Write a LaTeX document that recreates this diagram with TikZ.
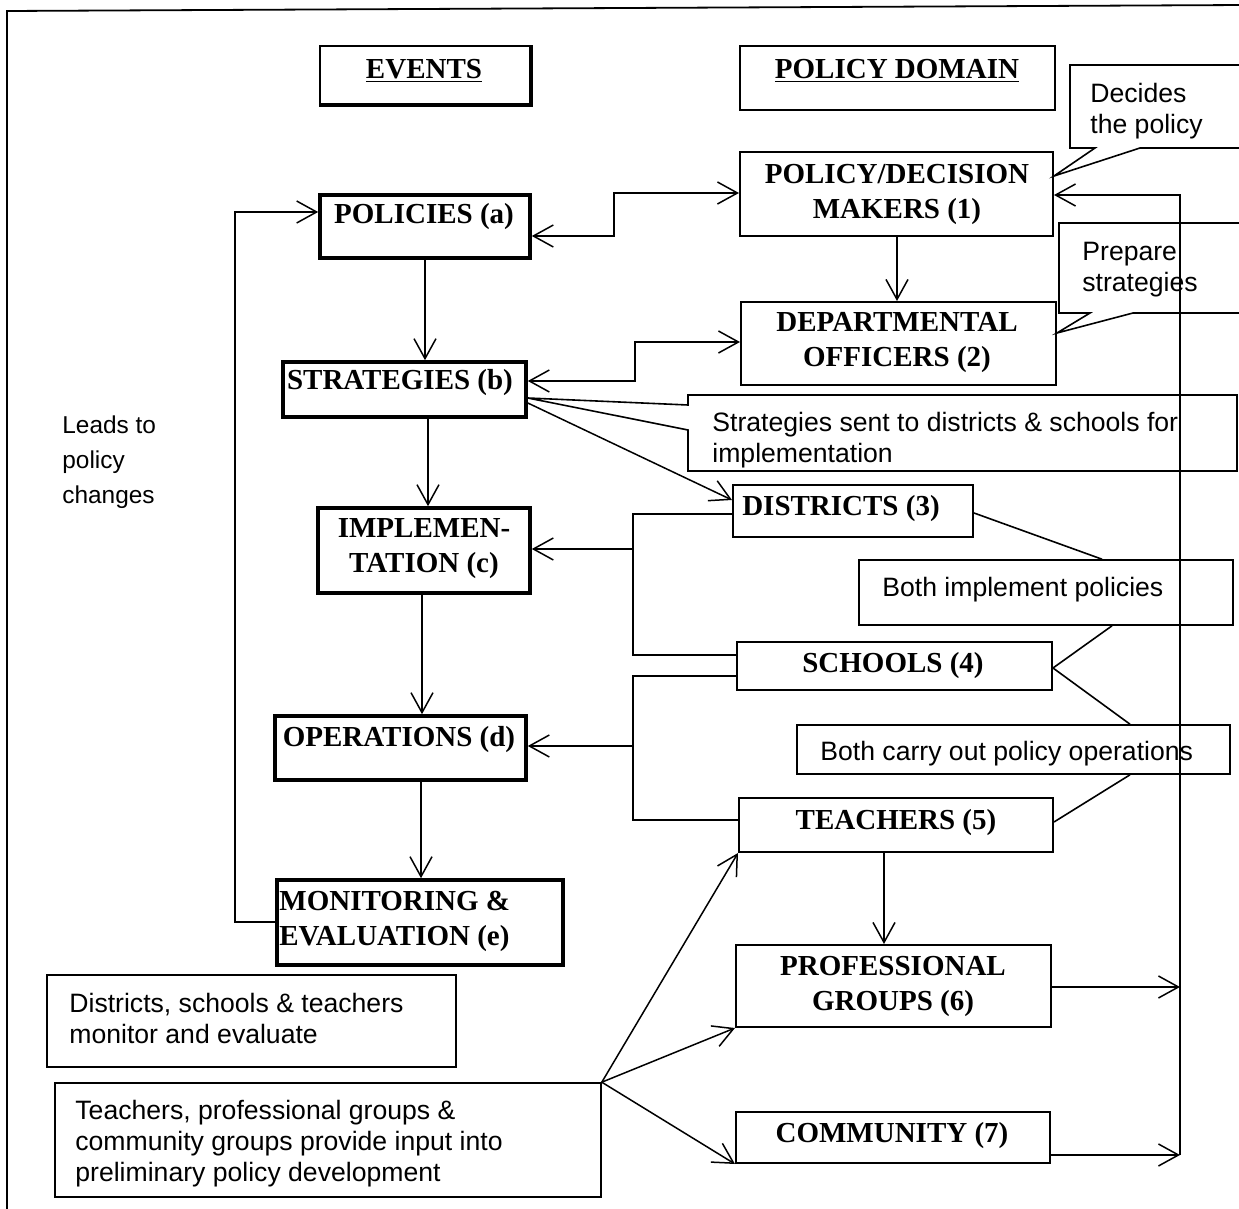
\documentclass[tikz,border=0pt]{standalone}
\usepackage{fontspec}
\setmainfont{Liberation Serif}
\newfontfamily\sansf{Liberation Sans}
\usetikzlibrary{arrows.meta,fit,calc}
\begin{document}
\begin{tikzpicture}[x=0.5pt,y=-0.5pt,
  evbox/.style={draw, line width=1.8pt, inner sep=0pt, fit={#1}},
  dbox/.style={draw, line width=1pt, inner sep=0pt, fit={#1}},
  cbox/.style={draw, line width=0.8pt, inner sep=0pt, fit={#1}},
  btext/.style={font=\fontsize{14.5}{17.5}\selectfont\bfseries, align=center, inner sep=0pt, yshift=-1.5pt},
  stext/.style={font=\sansf\fontsize{13.3}{15.5}\selectfont, align=left, inner sep=0pt, anchor=west, yshift=-1.5pt},
  conn/.style={line width=0.75pt},
  arr/.style={conn, -{Straight Barb[length=10pt,width=11pt]}},
  darr/.style={conn, {Straight Barb[length=10pt,width=11pt]}-{Straight Barb[length=10pt,width=11pt]}},
  co/.style={line width=0.8pt}]
\useasboundingbox (0,0) rectangle (1239,1209);
\fill[white] (0,0) rectangle (1239,1209);
\clip (0,0) rectangle (1239,1209);
% frame
\draw[line width=0.9pt] (7,1215) -- (7,11) -- (1245,5);

% headings
\node[dbox={(320,46) (530,104)}, line width=0.8pt] (t1) {};
\draw[line width=1.8pt] (t1.north east) -- (t1.south east) -- (t1.south west);
\node[btext] (t1t) at (424,68) {\underline{EVENTS}};
\node[dbox={(740,46) (1055,110)}, line width=0.8pt] (t2) {};
\node[btext] (t2t) at (897,68) {\underline{POLICY DOMAIN}};

% event boxes
\node[evbox={(320,195) (530,258)}] (a) {};
\node[btext] (at) at (424,214) {POLICIES (a)};
\node[evbox={(283,362) (526,417)}] (b) {};
\node[btext] (bt) at (400,380) {STRATEGIES (b)};
\node[evbox={(318,508) (530,593)}] (c) {};
\node[btext] (ct) at (424,546) {IMPLEMEN-\\TATION (c)};
\node[evbox={(275,716) (526,780)}] (d) {};
\node[btext] (dt) at (399,737) {OPERATIONS (d)};
\node[evbox={(277,880) (563,965)}] (e) {};
\node[btext, align=left, anchor=west] (et) at (279,918) {MONITORING \&\\EVALUATION (e)};

% policy domain boxes
\node[dbox={(740,152) (1053,236)}] (n1) {};
\node[btext] (n1t) at (897,191) {POLICY/DECISION\\MAKERS (1)};
\node[dbox={(741,302) (1056,385)}] (n2) {};
\node[btext] (n2t) at (897,340) {DEPARTMENTAL\\OFFICERS (2)};
\node[dbox={(733,485) (973,537)}] (n3) {};
\node[btext] (n3t) at (841,506) {DISTRICTS (3)};
\node[dbox={(737,642) (1052,690)}] (n4) {};
\node[btext] (n4t) at (893,663) {SCHOOLS (4)};
\node[dbox={(739,798) (1053,852)}] (n5) {};
\node[btext] (n5t) at (896,820) {TEACHERS (5)};
\node[dbox={(736,945) (1051,1027)}] (n6) {};
\node[btext] (n6t) at (893,983) {PROFESSIONAL\\GROUPS (6)};
\node[dbox={(736,1112) (1050,1163)}] (n7) {};
\node[btext] (n7t) at (892,1133) {COMMUNITY (7)};

% callouts
\draw[co] (1245,65) -- (1070,65) -- (1070,148) -- (1095,148) -- (n1.east |- 0,176) -- (1140,148) -- (1245,148);
\node[stext] (dec) at (1090,108) {Decides\\the policy};
\draw[co] (1245,223) -- (1059,223) -- (1059,313) -- (1090,313) -- (n2.east |- 0,333) -- (1133,313) -- (1245,313);
\node[stext] (prep) at (1082,267) {Prepare\\strategies};
\node[stext] (strt) at (712,437) {Strategies sent to districts \& schools for\\implementation};
\draw[co] (b.east |- 0,398) -- (688,405) -- (688,395) -- (1237,395) -- (1237,471) -- (688,471) -- (688,430) -- cycle;
\node[cbox={(859,560) (1233,625)}] (bi) {};
\node[stext] (bit) at (882,587) {Both implement policies};
\node[cbox={(797,725) (1230,774)}] (bc) {};
\node[stext] (bct) at (820,751) {Both carry out policy operations};
\node[cbox={(47,975) (456,1067)}] (mon) {};
\node[stext] (mont) at (69,1015) {Districts, schools \& teachers\\monitor and evaluate};
\node[cbox={(55,1083) (601,1197)}] (inp) {};
\node[stext] (inpt) at (75,1141) {Teachers, professional groups \&\\community groups provide input into\\preliminary policy development};
\node[stext, font=\sansf\fontsize{12.2}{17.5}\selectfont] (leads) at (62,459) {Leads to\\policy\\changes};

\draw[co] (n3.east |- 0,513) -- (bi.north -| 1102,0);
\draw[co] (n4.east |- 0,668) -- (bi.south -| 1112,0);
\draw[co] (n4.east |- 0,668) -- (bc.north -| 1130,0);
\draw[co] (n5.east |- 0,822) -- (bc.south -| 1130,0);

% event chain
\draw[arr] (a.south) -- (b.north -| a.south);
\draw[arr] (b.south -| 428,0) -- (c.north -| 428,0);
\draw[arr] (c.south -| 422,0) -- (d.north -| 422,0);
\draw[arr] (d.south -| 421,0) -- (e.north -| 421,0);
\draw[arr] (e.west |- 0,922) -- (235,922) -- (235,212) -- (a.west |- 0,212);

% links events <-> domain
\draw[darr] (a.east |- 0,236) -- (614,236) -- (614,193) -- (n1.west |- 0,193);
\draw[darr] (b.east |- 0,381) -- (635,381) -- (635,342) -- (n2.west |- 0,342);
\draw[arr] (b.east |- 0,403) -- (n3.west |- 0,500);
\draw[arr] (n1.south -| 897,0) -- (n2.north -| 897,0);

\coordinate (j1) at (633,549);
\coordinate (j2) at (633,746);
\draw[conn] (n3.west |- 0,514) -- (633,514) -- (633,655) -- (n4.west |- 0,655);
\draw[arr] (j1) -- (c.east |- j1);
\draw[conn] (n4.west |- 0,676) -- (633,676) -- (633,820) -- (n5.west |- 0,820);
\draw[arr] (j2) -- (d.east |- j2);

\draw[arr] (n5.south -| 884,0) -- (n6.north -| 884,0);
\coordinate (r6) at (1180,987);
\coordinate (r7) at (1180,1155);
\draw[arr] (n6.east |- r6) -- (r6);
\draw[arr] (n7.east |- r7) -- (r7);
\draw[arr] (r7) -- (1180,195) -- (n1.east |- 0,195);

\draw[arr] (inp.north east) -- (n5.south west);
\draw[arr] (inp.north east) -- (n6.south west);
\draw[arr] (inp.north east) -- (n7.south west);
\end{tikzpicture}
\end{document}
